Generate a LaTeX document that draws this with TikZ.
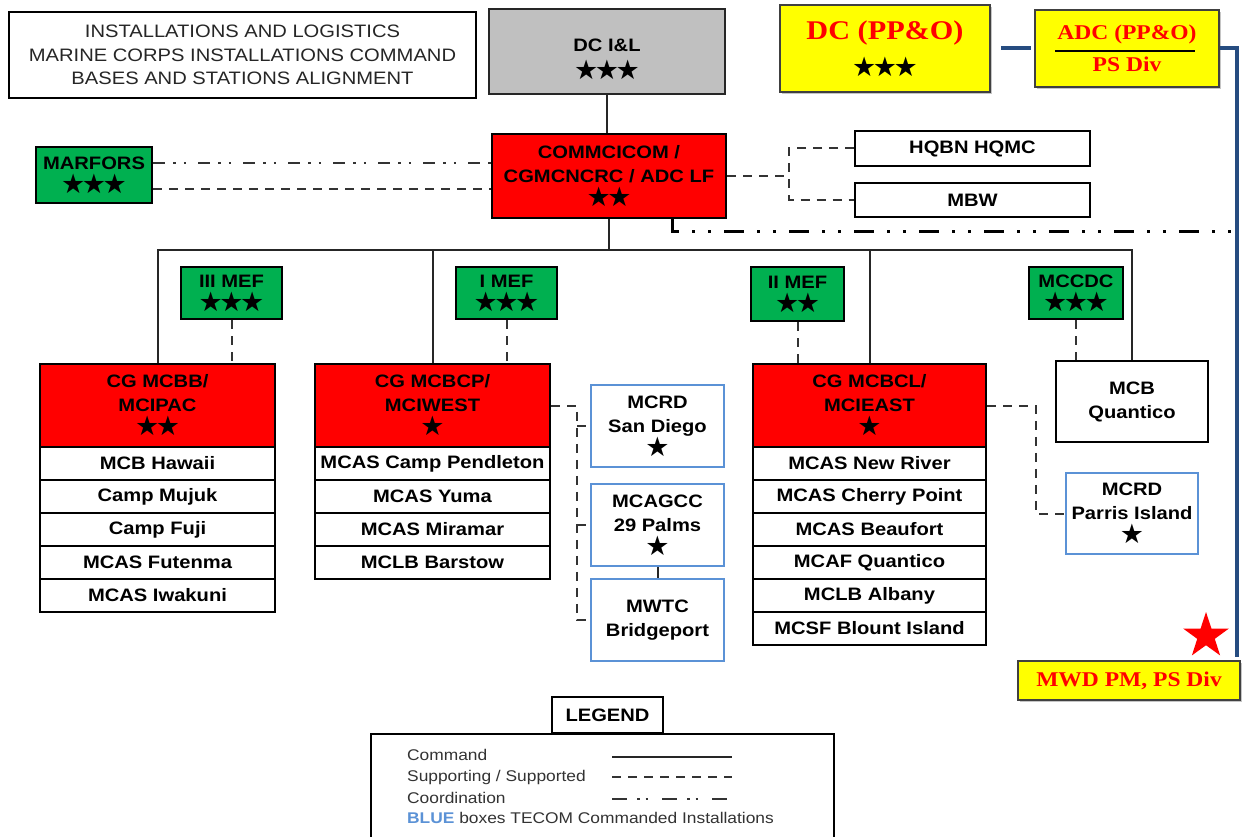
\documentclass[tikz,border=0pt]{standalone}
\usepackage{fontspec}
\setmainfont[FakeStretch=1.12]{Liberation Sans}
\newfontfamily\serifx[FakeStretch=1.12]{Liberation Serif}
\newfontfamily\starfont{DejaVu Sans}
\usetikzlibrary{shapes.geometric,shadows}
\definecolor{redbox}{RGB}{255,0,0}
\definecolor{greenbox}{RGB}{0,176,80}
\definecolor{graybox}{RGB}{192,192,192}
\definecolor{yelbox}{RGB}{255,255,0}
\definecolor{bluebd}{RGB}{91,146,214}
\definecolor{bluelnc}{RGB}{38,76,128}
\newcommand\stars[1]{{\starfont\fontsize{27}{24}\selectfont #1}}
\newcommand\sone{\stars{★}}
\newcommand\stwo{\stars{★\kern-3.5pt★}}
\newcommand\sthree{\stars{★\kern-3.5pt★\kern-3.5pt★}}
\newcommand\redser[1]{{\serifx\bfseries\color{red}#1}}
\tikzset{
  base/.style={draw, line width=2.5pt, inner sep=0pt, align=center, text=black,
    font=\bfseries\fontsize{18}{24}\selectfont},
  rbox/.style={base, fill=redbox},
  gbox/.style={base, fill=greenbox},
  wbox/.style={base, fill=white, line width=2pt},
  bbox/.style={base, fill=white, draw=bluebd, line width=2pt},
  ybox/.style={base, fill=yelbox, draw=black!75, line width=1.5pt,
    drop shadow={shadow xshift=2pt, shadow yshift=-2pt, fill=black!45}},
  lbl/.style={inner sep=0pt, align=center, font=\bfseries\fontsize{18}{24}\selectfont},
  legtxt/.style={inner sep=0pt, anchor=west, text=black!80, font=\fontsize{15.5}{18}\selectfont},
  cmd/.style={line width=2pt, draw=black!85},
  supp/.style={line width=2pt, draw=black!80, dash pattern=on 9pt off 7pt},
  coord/.style={line width=2pt, draw=black!80, dash pattern=on 12pt off 8pt on 2.5pt off 8pt on 2.5pt off 12pt},
  coordthick/.style={line width=3pt, draw=black, dash pattern=on 20pt off 13pt on 3pt off 13pt on 3pt off 13pt},
  bluel/.style={line width=4pt, draw=bluelnc}
}
\begin{document}
\begin{tikzpicture}[x=1pt,y=-1pt]
\fill[white] (0,0) rectangle (1242,837);
\useasboundingbox (0,0) rectangle (1242,837);

% title
\node[base, line width=2pt, font=\fontsize{18}{23.5}\selectfont, text=black!85, minimum width=467, minimum height=86] (title) at (242.5,55)
  {INSTALLATIONS AND LOGISTICS\\MARINE CORPS INSTALLATIONS COMMAND\\BASES AND STATIONS ALIGNMENT};

% top
\node[base, fill=graybox, draw=black!85, minimum width=236, minimum height=85] (dcil) at (607,51.5) {};
\node[lbl] (dcilt) at (607,59) {DC I\&L\\[4pt]\sthree};

\node[ybox, minimum width=210, minimum height=87] (dcppo) at (885,48.5)
  {\redser{\fontsize{27}{30}\selectfont DC (PP\&O)}\\[11pt]\sthree};
\node[ybox, minimum width=184, minimum height=77] (adc) at (1127,48.5)
  {\redser{\fontsize{21}{24}\selectfont ADC (PP\&O)}\\[8pt]\redser{\fontsize{21}{24}\selectfont PS Div}};
\draw[line width=2.5pt] (1055,51) -- (1195,51);

\node[rbox, minimum width=234, minimum height=84] (commcicom) at (609,176)
  {COMMCICOM /\\CGMCNCRC / ADC LF\\\stwo};
\node[gbox, minimum width=116, minimum height=56] (marfors) at (94,175) {MARFORS\\\sthree};
\node[wbox, minimum width=235, minimum height=35] (hqbn) at (972.5,148.5) {HQBN HQMC};
\node[wbox, minimum width=235, minimum height=34] (mbw) at (972.5,200) {MBW};

% MEFs
\node[gbox, minimum width=101, minimum height=52] (mef3) at (231.5,293) {III MEF\\\sthree};
\node[gbox, minimum width=101, minimum height=52] (mef1) at (506.5,293) {I MEF\\\sthree};
\node[gbox, minimum width=93, minimum height=54] (mef2) at (797.5,294) {II MEF\\\stwo};
\node[gbox, minimum width=94, minimum height=52] (mccdc) at (1076,293) {MCCDC\\\sthree};

% MCBB
\node[rbox, minimum width=235, minimum height=83] (mcbb) at (157.5,405.5) {CG MCBB/\\MCIPAC\\\stwo};
\node[wbox, minimum width=235, minimum height=33] (mcbb1) at (157.5,463.5) {MCB Hawaii};
\node[wbox, minimum width=235, minimum height=33] (mcbb2) at (157.5,496.5) {Camp Mujuk};
\node[wbox, minimum width=235, minimum height=33] (mcbb3) at (157.5,529.5) {Camp Fuji};
\node[wbox, minimum width=235, minimum height=33] (mcbb4) at (157.5,562.5) {MCAS Futenma};
\node[wbox, minimum width=235, minimum height=33] (mcbb5) at (157.5,595.5) {MCAS Iwakuni};

% MCBCP
\node[rbox, minimum width=235, minimum height=83] (mcbcp) at (432.5,405.5) {CG MCBCP/\\MCIWEST\\\sone};
\node[wbox, minimum width=235, minimum height=33] (mcbcp1) at (432.5,463.5) {MCAS Camp Pendleton};
\node[wbox, minimum width=235, minimum height=33] (mcbcp2) at (432.5,496.5) {MCAS Yuma};
\node[wbox, minimum width=235, minimum height=33] (mcbcp3) at (432.5,529.5) {MCAS Miramar};
\node[wbox, minimum width=235, minimum height=33] (mcbcp4) at (432.5,562.5) {MCLB Barstow};

% MCBCL
\node[rbox, minimum width=233, minimum height=83] (mcbcl) at (869.5,405.5) {CG MCBCL/\\MCIEAST\\\sone};
\node[wbox, minimum width=233, minimum height=33] (mcbcl1) at (869.5,463.5) {MCAS New River};
\node[wbox, minimum width=233, minimum height=33] (mcbcl2) at (869.5,496.5) {MCAS Cherry Point};
\node[wbox, minimum width=233, minimum height=33] (mcbcl3) at (869.5,529.5) {MCAS Beaufort};
\node[wbox, minimum width=233, minimum height=33] (mcbcl4) at (869.5,562.5) {MCAF Quantico};
\node[wbox, minimum width=233, minimum height=33] (mcbcl5) at (869.5,595.5) {MCLB Albany};
\node[wbox, minimum width=233, minimum height=33] (mcbcl6) at (869.5,628.5) {MCSF Blount Island};

\node[wbox, line width=2.5pt, minimum width=152, minimum height=81] (quantico) at (1132,401.5) {MCB\\Quantico};

% blue boxes
\node[bbox, minimum width=133, minimum height=82] (sandiego) at (657.5,426) {MCRD\\San Diego\\\sone};
\node[bbox, minimum width=133, minimum height=82] (mcagcc) at (657.5,525) {MCAGCC\\29 Palms\\\sone};
\node[bbox, minimum width=133, minimum height=82] (mwtc) at (657.5,620) {MWTC\\Bridgeport};
\node[bbox, minimum width=132, minimum height=81] (parris) at (1132,513.5) {MCRD\\Parris Island\\\sone};

% MWD
\node[ybox, minimum width=222, minimum height=39] (mwd) at (1129,680.5)
  {\redser{\fontsize{21}{24}\selectfont MWD PM, PS Div}};
\node[star, star points=5, star point ratio=2.6, fill=red, minimum size=48, inner sep=0pt] (rstar) at (1206,636) {};

% connectors: command
\coordinate (busy) at (0,250);
\draw[cmd] (dcil.south) -- (dcil.south |- commcicom.north);
\draw[cmd] (commcicom.south) -- (commcicom.south |- busy);
\draw[cmd] (mcbb.north) -- (mcbb.north |- busy) -- (quantico.north |- busy) -- (quantico.north);
\draw[cmd] (mcbcp.north) -- (mcbcp.north |- busy);
\draw[cmd] (mcbcl.north) -- (mcbcl.north |- busy);
\draw[cmd] (mcagcc.south) -- (mwtc.north);

% supporting
\draw[supp] (mef3.south) -- (mef3.south |- mcbb.north);
\draw[supp] (mef1.south) -- (mef1.south |- mcbcp.north);
\draw[supp] (mef2.south) -- (mef2.south |- mcbcl.north);
\draw[supp] (mccdc.south) -- (mccdc.south |- quantico.north);
\draw[supp] ([yshift=-14pt]marfors.east) -- ([yshift=-14pt]marfors.east -| commcicom.west);
\coordinate (jr) at (789,176);
\draw[supp] (commcicom.east) -- (commcicom.east -| jr);
\draw[supp] (hqbn.west) -- (hqbn.west -| jr) -- (mbw.west -| jr) -- (mbw.west);
\coordinate (jw) at (577,0);
\draw[supp] (mcbcp.east) -- (mcbcp.east -| jw) |- (mwtc.west);
\draw[supp] (sandiego.west -| jw) -- (sandiego.west);
\draw[supp] (mcagcc.west -| jw) -- (mcagcc.west);
\coordinate (jp) at (1036,0);
\draw[supp] (mcbcl.east) -- (mcbcl.east -| jp) |- (parris.west);

% coordination
\draw[coord] ([yshift=12pt]marfors.east) -- ([yshift=12pt]marfors.east -| commcicom.west);
\coordinate (c1) at (672,0);
\coordinate (cx) at (1237,232);
\draw[coordthick] (commcicom.south -| c1) |- (cx);

% blue
\coordinate (bl) at (1237,657);
\draw[bluel, shorten <=10pt, shorten >=3pt] (dcppo.east) -- (adc.west);
\draw[bluel] (adc.east) -| (bl);

% legend
\node[wbox, minimum width=111, minimum height=36] (legend) at (607.5,715) {LEGEND};
\node[draw, line width=2pt, minimum width=463, minimum height=110, inner sep=0pt, anchor=north west] (legbox) at (370,733) {};
\node[legtxt] (lt1) at (407,755) {Command};
\node[legtxt] (lt2) at (407,777) {Supporting / Supported};
\node[legtxt] (lt3) at (407,798) {Coordination};
\node[legtxt] (lt4) at (407,818) {\textcolor{bluebd}{\bfseries BLUE} boxes TECOM Commanded Installations};
\draw[cmd] (612,757) -- (732,757);
\draw[supp] (612,777) -- (732,777);
\draw[coord, dash pattern=on 15pt off 10pt on 2.5pt off 6pt on 2.5pt off 14pt] (612,799) -- (732,799);
\end{tikzpicture}
\end{document}
